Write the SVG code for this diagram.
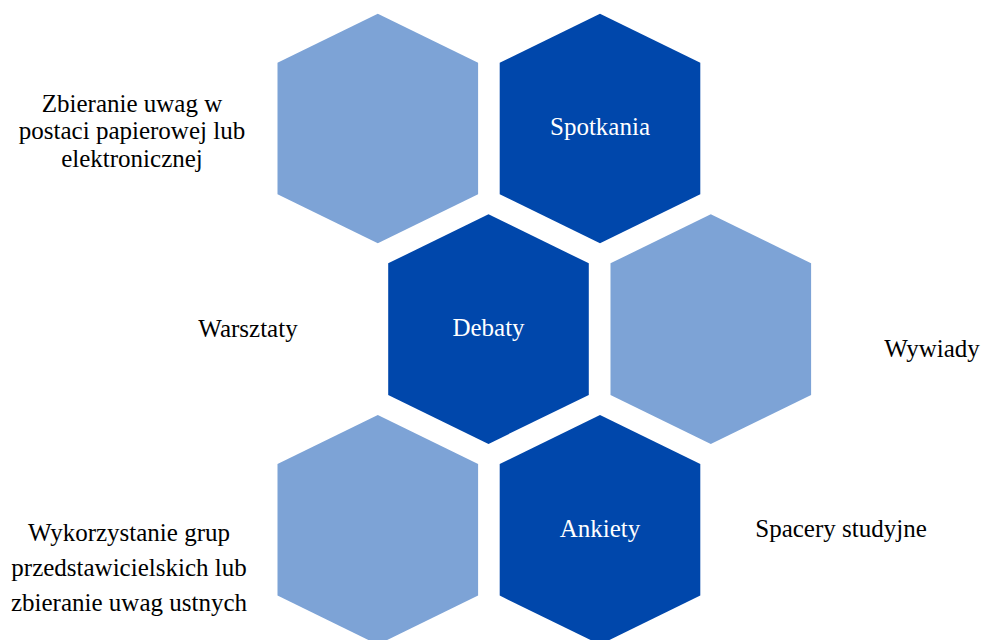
<svg xmlns="http://www.w3.org/2000/svg" xmlns:xlink="http://www.w3.org/1999/xlink" width="981" height="640" viewBox="0 0 981 640">
  <style>
    .light { fill: #7DA3D6; }
    .dark { fill: #0047AB; }
    .in { font-family: "Liberation Serif", "Times New Roman", serif; font-size: 25px; fill: #ffffff; text-anchor: middle; }
    .lbl { font-family: "Liberation Serif", "Times New Roman", serif; font-size: 25px; fill: #000000; text-anchor: middle; }
  </style>
  <defs>
    <path id="hex" d="M0,0 L100.3,49 L100.3,180.6 L0,229.6 L-100.3,180.6 L-100.3,49 Z"/>
  </defs>
  <rect width="981" height="640" fill="#ffffff"/>
  <g id="hex-zbieranie">
    <use xlink:href="#hex" href="#hex" x="377.8" y="13.7" class="light"/>
  </g>
  <g id="hex-spotkania">
    <use xlink:href="#hex" href="#hex" x="600" y="13.7" class="dark"/>
    <text class="in" x="600" y="135">Spotkania</text>
  </g>
  <g id="hex-debaty">
    <use xlink:href="#hex" href="#hex" x="488.5" y="214.3" class="dark"/>
    <text class="in" x="488.5" y="336">Debaty</text>
  </g>
  <g id="hex-wywiady">
    <use xlink:href="#hex" href="#hex" x="710.8" y="214.3" class="light"/>
  </g>
  <g id="hex-wykorzystanie">
    <use xlink:href="#hex" href="#hex" x="377.8" y="415" class="light"/>
  </g>
  <g id="hex-ankiety">
    <use xlink:href="#hex" href="#hex" x="600" y="415" class="dark"/>
    <text class="in" x="600" y="537">Ankiety</text>
  </g>
  <g id="connectors"></g>
  <g id="labels">
    <text class="lbl" x="132" y="111.5">Zbieranie uwag w</text>
    <text class="lbl" x="132" y="139.3">postaci papierowej lub</text>
    <text class="lbl" x="132" y="166.5">elektronicznej</text>
    <text class="lbl" x="248" y="337">Warsztaty</text>
    <text class="lbl" x="932" y="357">Wywiady</text>
    <text class="lbl" x="841" y="537">Spacery studyjne</text>
    <text class="lbl" x="129" y="541">Wykorzystanie grup</text>
    <text class="lbl" x="129" y="576">przedstawicielskich lub</text>
    <text class="lbl" x="129" y="611">zbieranie uwag ustnych</text>
  </g>
</svg>
